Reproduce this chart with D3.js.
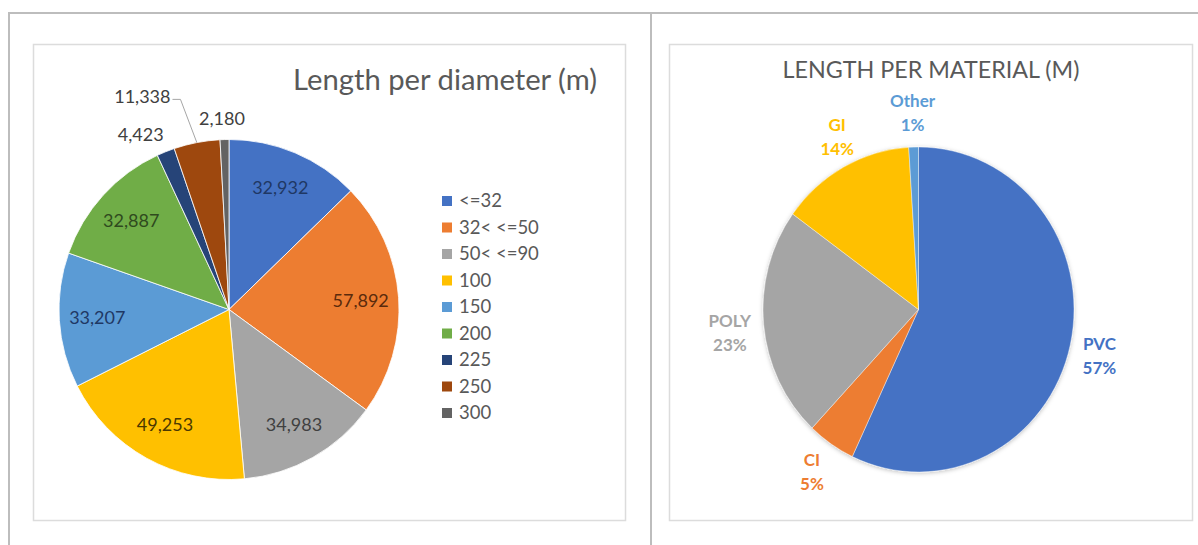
<!DOCTYPE html>
<html>
<head>
<meta charset="utf-8">
<script src="https://cdn.jsdelivr.net/npm/d3@7"></script>
<style>
  html, body { margin: 0; padding: 0; background: #fff; }
  svg { display: block; }
  text { font-family: Lato, "Open Sans", sans-serif; }
</style>
</head>
<body>
<svg id="chart" width="1198" height="545"></svg>
<script>
// ---- Length per diameter (m) ----
const diameterCategories = ["<=32", "32< <=50", "50< <=90", "100", "150", "200", "225", "250", "300"];
const diameterLengths = [32932, 57892, 34983, 49253, 33207, 32887, 4423, 11338, 2180];
const diameterColors = ["#4472C4", "#ED7D31", "#A5A5A5", "#FFC000", "#5B9BD5", "#70AD47", "#264478", "#9E480E", "#636363"];
const diameterLabelColors = ["#1F3864", "#5A2A0C", "#404040", "#4A3800", "#1F3864", "#2F4A1E", "#404040", "#404040", "#404040"];

// ---- Length per material (M) ----
const materialCategories = ["PVC", "CI", "POLY", "GI", "Other"];
const materialShares = [57, 5, 23, 14, 1];
const materialColors = ["#4472C4", "#ED7D31", "#A5A5A5", "#FFC000", "#5B9BD5"];

const svg = d3.select("#chart");

// soft drop shadow for the material pie
const defs = svg.append("defs");
const shadow = defs.append("filter").attr("id", "soft")
  .attr("x", "-10%").attr("y", "-10%").attr("width", "120%").attr("height", "120%");
shadow.append("feDropShadow").attr("dx", 0).attr("dy", 1).attr("stdDeviation", 2)
  .attr("flood-color", "#000").attr("flood-opacity", 0.25);

// outer frame lines
const frame = svg.append("g").attr("stroke", "#bdbdbd").attr("stroke-width", 2);
frame.append("line").attr("x1", 8).attr("x2", 1198).attr("y1", 13).attr("y2", 13);
frame.append("line").attr("x1", 9).attr("x2", 9).attr("y1", 12).attr("y2", 545);
frame.append("line").attr("x1", 651).attr("x2", 651).attr("y1", 12).attr("y2", 545);

// chart area boxes
svg.append("rect").attr("x", 33.5).attr("y", 44.5).attr("width", 592).attr("height", 476)
  .attr("fill", "#fff").attr("stroke", "#dcdcdc").attr("stroke-width", 1.5);
svg.append("rect").attr("x", 669.5).attr("y", 44.5).attr("width", 523).attr("height", 476)
  .attr("fill", "#fff").attr("stroke", "#dcdcdc").attr("stroke-width", 1.5);

const fmt = d3.format(",");

// shrink or grow a text's font so that it spans the given width
function fitWidth(sel, width) {
  const node = sel.node();
  const fs = parseFloat(sel.attr("font-size"));
  const w = node.getComputedTextLength();
  if (w > 0) sel.attr("font-size", (fs * width / w).toFixed(2));
}

// ================= Left pie =================
{
  const cx = 229, cy = 309.5, r = 170;
  const g = svg.append("g").attr("transform", `translate(${cx},${cy})`);
  const pie = d3.pie().sort(null).value(d => d)(diameterLengths);
  const arc = d3.arc().innerRadius(0).outerRadius(r);
  g.selectAll("path.slice").data(pie).join("path")
    .attr("class", "slice")
    .attr("d", arc)
    .attr("fill", (d, i) => diameterColors[i])
    .attr("stroke", "#fff").attr("stroke-width", 0.8);

  const inner = d3.arc().innerRadius(132).outerRadius(132);
  // thin slices carry their label outside: [radius, dx, dy]
  const outside = { 6: [197, -15, 8], 7: [215, -46, -2], 8: [191, -2, 0] };
  pie.forEach((d, i) => {
    const a = (d.startAngle + d.endAngle) / 2;
    let x, y;
    if (outside[i]) {
      const [rad, ox, oy] = outside[i];
      x = Math.sin(a) * rad + ox;
      y = -Math.cos(a) * rad + oy;
    } else {
      [x, y] = inner.centroid(d);
    }
    const t = g.append("text")
      .attr("x", x).attr("y", y)
      .attr("dy", "0.35em")
      .attr("text-anchor", "middle")
      .attr("font-size", 18)
      .attr("fill", diameterLabelColors[i])
      .text(fmt(diameterLengths[i]));
    if (i === 7) {
      // leader line from the label to its slice
      const half = t.node().getComputedTextLength() / 2;
      const ex = Math.sin(a) * r, ey = -Math.cos(a) * r;
      g.append("polyline")
        .attr("points", `${x + half + 2},${y + 3} ${x + half + 10},${y + 3} ${ex},${ey}`)
        .attr("fill", "none").attr("stroke", "#a6a6a6").attr("stroke-width", 1);
    }
  });

  const title = svg.append("text")
    .attr("x", 597).attr("y", 90)
    .attr("text-anchor", "end")
    .attr("font-size", 24)
    .attr("fill", "#595959")
    .text("Length per diameter (m)");
  fitWidth(title, 304);

  // legend
  const lg = svg.append("g").attr("transform", "translate(442,201)");
  const rows = lg.selectAll("g").data(diameterCategories).join("g")
    .attr("transform", (d, i) => `translate(0,${i * 26.5})`);
  rows.append("rect").attr("x", 0).attr("y", -5).attr("width", 10).attr("height", 10)
    .attr("fill", (d, i) => diameterColors[i]);
  rows.append("text").attr("x", 17).attr("y", 0).attr("dy", "0.35em")
    .attr("font-size", 18.5).attr("fill", "#595959").text(d => d);
}

// ================= Right pie =================
{
  const cx = 918.5, cy = 309.5, rx = 155.5, ry = 162.5;
  const g = svg.append("g").attr("transform", `translate(${cx},${cy})`);
  const pie = d3.pie().sort(null).value(d => d)(materialShares);
  const arc = d3.arc().innerRadius(0).outerRadius(rx);
  g.append("g").attr("transform", `scale(1,${ry / rx})`).attr("filter", "url(#soft)")
    .selectAll("path").data(pie).join("path")
    .attr("d", arc)
    .attr("fill", (d, i) => materialColors[i])
    .attr("stroke", "#fff").attr("stroke-width", 0.4);

  const gap = 34;
  const nudge = [[-4, 4], [0, 0], [0, 5], [10, 0], [0, 0]];
  pie.forEach((d, i) => {
    const a = (d.startAngle + d.endAngle) / 2;
    const x = Math.sin(a) * (rx + gap) + nudge[i][0];
    const y = -Math.cos(a) * (ry + gap) + nudge[i][1];
    const t = g.append("text")
      .attr("text-anchor", "middle")
      .attr("font-size", 17)
      .attr("font-weight", "bold")
      .attr("fill", materialColors[i]);
    t.append("tspan").attr("x", x).attr("y", y - 12).attr("dy", "0.35em").text(materialCategories[i]);
    t.append("tspan").attr("x", x).attr("y", y + 12).attr("dy", "0.35em").text(materialShares[i] + "%");
  });

  const title = svg.append("text")
    .attr("x", 931).attr("y", 78)
    .attr("text-anchor", "middle")
    .attr("font-size", 21)
    .attr("fill", "#595959")
    .text("LENGTH PER MATERIAL (M)");
  fitWidth(title, 297);
}
</script>
</body>
</html>
